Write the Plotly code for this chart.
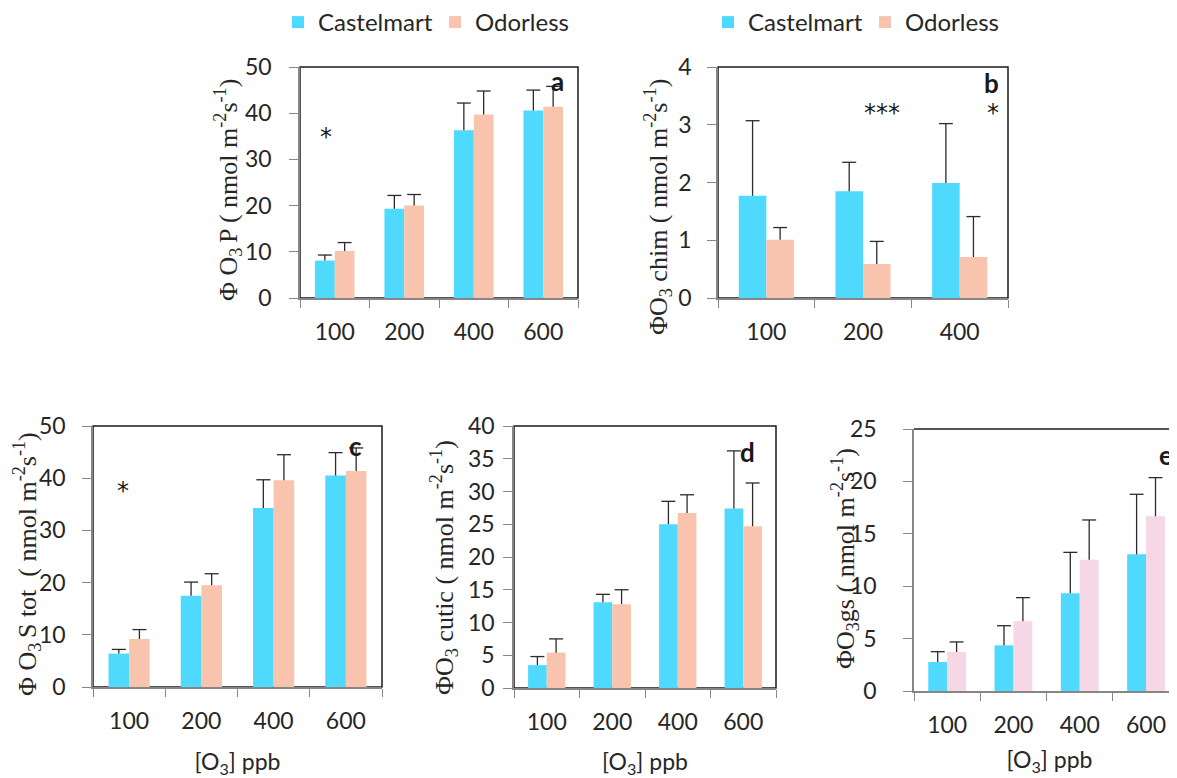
import plotly.graph_objects as go

# ---------------- data ----------------
categories4 = ["100", "200", "400", "600"]
categories3 = ["100", "200", "400"]
series_names = ["Castelmart", "Odorless"]

# panel a : PhiO3 P
a_castelmart = [8.1, 19.3, 36.3, 40.6]
a_castelmart_sd = [1.2, 2.9, 5.9, 4.4]
a_odorless = [10.2, 20.0, 39.7, 41.4]
a_odorless_sd = [1.8, 2.4, 5.1, 4.4]

# panel b : PhiO3 chim
b_castelmart = [1.77, 1.85, 1.99]
b_castelmart_sd = [1.30, 0.50, 1.03]
b_odorless = [1.01, 0.59, 0.71]
b_odorless_sd = [0.21, 0.39, 0.70]

# panel c : PhiO3 S tot
c_castelmart = [6.4, 17.5, 34.3, 40.5]
c_castelmart_sd = [0.8, 2.6, 5.4, 4.4]
c_odorless = [9.2, 19.5, 39.6, 41.4]
c_odorless_sd = [1.8, 2.2, 4.9, 4.4]

# panel d : PhiO3 cutic
d_castelmart = [3.5, 13.1, 25.0, 27.4]
d_castelmart_sd = [1.3, 1.2, 3.5, 8.8]
d_odorless = [5.4, 12.8, 26.7, 24.7]
d_odorless_sd = [2.1, 2.2, 2.8, 6.6]

# panel e : PhiO3 gs
e_castelmart = [2.77, 4.36, 9.32, 13.04]
e_castelmart_sd = [0.98, 1.87, 3.91, 5.73]
e_odorless = [3.72, 6.65, 12.53, 16.67]
e_odorless_sd = [0.96, 2.26, 3.79, 3.69]

# ---------------- style ----------------
W, H = 1177, 778
PAGE_OFF = 8          # the page body margin shifts the figure by 8 px
CYAN = "#4fd9fd"
PEACH = "#f9c4ae"
PINK = "#f5d7e6"
AXIS_GRAY = "#868686"
TXT = "#262626"
SANS = "Lato"
SERIF = "Liberation Serif"
BW = 0.285
TICK_SIZE = 23


def px_x(p):
    return (p - PAGE_OFF) / W


def px_y(p):
    return 1 - (p - PAGE_OFF) / H


panels = [
    dict(key="a", cats=categories4, c=a_castelmart, csd=a_castelmart_sd, o=a_odorless, osd=a_odorless_sd,
         ocolor=PEACH, dom_x=(300, 578), dom_y=(67, 298), yr=[0, 50], dt=10, cap=0.10, standoff=13,
         xtitle=None, xts=21, legend="legend", top_only=False, catpx=69.5,
         ytitle="Φ O<sub>3 </sub>P ( nmol m<sup>-2</sup>s<sup>-1</sup>)", ytpos=(228, 190)),
    dict(key="b", cats=categories3, c=b_castelmart, csd=b_castelmart_sd, o=b_odorless, osd=b_odorless_sd,
         ocolor=PEACH, dom_x=(718, 1008), dom_y=(67, 298), yr=[0, 4], dt=1, cap=0.072, standoff=11,
         xtitle=None, xts=21, legend="legend2", top_only=False, catpx=96.7,
         ytitle="ΦO<sub>3</sub> chim ( nmol m<sup>-2</sup>s<sup>-1</sup>)", ytpos=(658, 207)),
    dict(key="c", cats=categories4, c=c_castelmart, csd=c_castelmart_sd, o=c_odorless, osd=c_odorless_sd,
         ocolor=PEACH, dom_x=(93, 382), dom_y=(426, 687), yr=[0, 50], dt=10, cap=0.097, standoff=12,
         xtitle="[O<sub>3</sub>] ppb", xts=21, legend=None, top_only=False, catpx=72.3,
         ytitle="Φ O<sub>3 </sub>S tot  ( nmol m<sup>-2</sup>s<sup>-1</sup>)", ytpos=(27, 564)),
    dict(key="d", cats=categories4, c=d_castelmart, csd=d_castelmart_sd, o=d_odorless, osd=d_odorless_sd,
         ocolor=PEACH, dom_x=(514, 776), dom_y=(426, 688), yr=[0, 40], dt=5, cap=0.107, standoff=4,
         xtitle="[O<sub>3</sub>] ppb", xts=20, legend=None, top_only=False, catpx=65.5,
         ytitle="ΦO<sub>3</sub> cutic ( nmol m<sup>-2</sup>s<sup>-1</sup>)", ytpos=(444, 567)),
    dict(key="e", cats=categories4, c=e_castelmart, csd=e_castelmart_sd, o=e_odorless, osd=e_odorless_sd,
         ocolor=PINK, dom_x=(914, 1185), dom_y=(429, 691), yr=[0, 25], dt=5, cap=0.105, standoff=22,
         xtitle="[O<sub>3</sub>] ppb", xts=15, legend=None, top_only=True, catpx=66.3,
         ytitle="ΦO<sub>3</sub>gs ( nmol m<sup>-2</sup>s<sup>-1</sup>)", ytpos=(845, 559)),
]

# text marks placed in data coordinates: (panel, text, x, y, kind)
marks = [
    ("a", "*", -0.13, 34.8, "star"),
    ("a", "a", 3.21, 46.9, "letter"),
    ("b", "***", 1.20, 3.20, "star"),
    ("b", "*", 2.34, 3.20, "star"),
    ("b", "b", 2.33, 3.72, "letter"),
    ("c", "*", -0.08, 37.5, "star"),
    ("c", "c", 3.13, 46.2, "letter"),
    ("d", "d", 3.06, 36.0, "letter"),
    ("e", "e", 3.30, 22.5, "letter"),
]

fig = go.Figure()
layout = dict(
    width=W, height=H, margin=dict(l=0, r=0, t=0, b=0, autoexpand=False),
    paper_bgcolor="white", plot_bgcolor="white", barmode="overlay",
    font=dict(family=SANS, color=TXT),
    showlegend=True,
)
shapes = []
annotations = []

for i, p in enumerate(panels):
    n = i + 1
    xa = "x" if n == 1 else f"x{n}"
    ya = "y" if n == 1 else f"y{n}"
    idx = list(range(len(p["cats"])))
    for s, (vals, sds, color, off) in enumerate([
        (p["c"], p["csd"], CYAN, -BW),
        (p["o"], p["osd"], p["ocolor"], 0.0),
    ]):
        bar_kw = dict(
            x=idx, y=vals, width=BW, offset=off, name=series_names[s],
            marker=dict(color=color, line=dict(width=0)),
            xaxis=xa, yaxis=ya, hoverinfo="skip",
            showlegend=p["legend"] is not None,
        )
        if p["legend"] is not None:
            bar_kw["legend"] = p["legend"]
        fig.add_trace(go.Bar(**bar_kw))
        # one-sided error bars (upper only) built from values + sd
        ex, ey = [], []
        for xi, v, sd in zip(idx, vals, sds):
            xc = xi + off + BW / 2
            ex += [xc, xc, None, xc - p["cap"], xc + p["cap"], None]
            ey += [v, v + sd, None, v + sd, v + sd, None]
        fig.add_trace(go.Scatter(
            x=ex, y=ey, mode="lines", line=dict(color="#2b2b2b", width=1.3),
            xaxis=xa, yaxis=ya, showlegend=False, hoverinfo="skip",
        ))

    x0, x1 = p["dom_x"]
    y0, y1 = p["dom_y"]
    nc = len(p["cats"])
    xr = [-0.5, -0.5 + (x1 - x0) / p["catpx"]] if p["top_only"] else [-0.5, nc - 0.5]
    xaxis = dict(
        domain=[px_x(x0), min(1.0, px_x(x1))], anchor=ya, range=xr,
        tickvals=idx, ticktext=p["cats"], ticks="", showgrid=False, zeroline=False,
        showline=True, linecolor=AXIS_GRAY, linewidth=1.5,
        tickfont=dict(family=SANS, size=TICK_SIZE, color=TXT), ticklabelstandoff=13,
        minor=dict(tickvals=[k - 0.5 for k in range(nc + 1)], ticks="outside",
                   ticklen=8, tickcolor=AXIS_GRAY, tickwidth=1.3, showgrid=False),
        fixedrange=True,
    )
    if p["xtitle"]:
        xaxis["title"] = dict(text=p["xtitle"], font=dict(family=SANS, size=TICK_SIZE, color=TXT),
                              standoff=p["xts"])
    yaxis = dict(
        domain=[px_y(y1), px_y(y0)], anchor=xa, range=p["yr"], dtick=p["dt"],
        ticks="outside", ticklen=9, tickcolor=AXIS_GRAY, tickwidth=1.3,
        showgrid=False, zeroline=False, showline=True, linecolor=AXIS_GRAY, linewidth=1.5,
        tickfont=dict(family=SANS, size=TICK_SIZE, color=TXT), ticklabelstandoff=p["standoff"],
        fixedrange=True,
    )
    layout["xaxis" if n == 1 else f"xaxis{n}"] = xaxis
    layout["yaxis" if n == 1 else f"yaxis{n}"] = yaxis

    # plot-area border (black top / right)
    if p["top_only"]:
        shapes.append(dict(type="line", xref=f"{xa} domain", yref=f"{ya} domain",
                           x0=0, x1=1, y0=1, y1=1, line=dict(color="#1a1a1a", width=1.5), layer="below"))
    else:
        shapes.append(dict(type="rect", xref=f"{xa} domain", yref=f"{ya} domain",
                           x0=0, x1=1, y0=0, y1=1, line=dict(color="#1a1a1a", width=1.5), layer="below"))

    annotations.append(dict(
        text=p["ytitle"], xref="paper", yref="paper",
        x=px_x(p["ytpos"][0]), y=px_y(p["ytpos"][1]), xanchor="center", yanchor="middle",
        textangle=-90, showarrow=False, font=dict(family=SERIF, size=26, color=TXT),
    ))

key_to_axes = {p["key"]: (("x", "y") if i == 0 else (f"x{i+1}", f"y{i+1}")) for i, p in enumerate(panels)}
for key, txt, mx, my, kind in marks:
    xa, ya = key_to_axes[key]
    if kind == "letter":
        font = dict(family=SANS, size=26, color="#1a1a1a")
        txt = f"<b>{txt}</b>"
    else:
        font = dict(family="DejaVu Sans", size=24, color="#1a1a1a")
    annotations.append(dict(
        text=txt, xref=xa, yref=ya, x=mx, y=my,
        showarrow=False, xanchor="center", yanchor="middle", font=font,
    ))

layout["shapes"] = shapes
layout["annotations"] = annotations
leg_common = dict(orientation="h", xanchor="left", yanchor="top", bgcolor="rgba(0,0,0,0)",
                  font=dict(family=SANS, size=24, color=TXT), entrywidth=112, traceorder="normal")
layout["legend"] = dict(x=px_x(278), y=px_y(0), **leg_common)
layout["legend2"] = dict(x=px_x(708), y=px_y(0), **leg_common)

fig.update_layout(**layout)
fig.write_html("out.html")
